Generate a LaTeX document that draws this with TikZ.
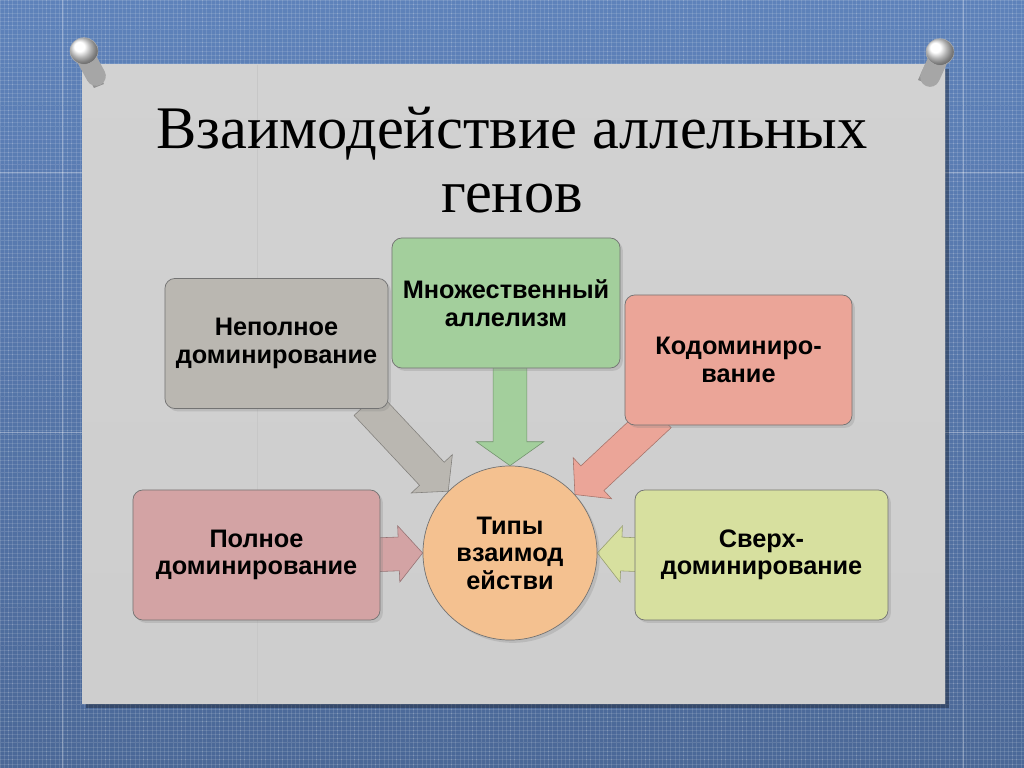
\documentclass[tikz,border=0pt]{standalone}
\usepackage{fontspec}
\setmainfont{Liberation Sans}
\newfontfamily\titlefont{Liberation Serif}
\usetikzlibrary{calc,shadows,patterns}

\definecolor{denim}{HTML}{5E82BA}
\definecolor{denimdark}{HTML}{4B6897}
\definecolor{card}{HTML}{D4D4D4}
\definecolor{greybox}{HTML}{BAB7B1}
\definecolor{greenbox}{HTML}{A3CF9C}
\definecolor{salmonbox}{HTML}{EBA598}
\definecolor{rosebox}{HTML}{D3A3A4}
\definecolor{limebox}{HTML}{D7E09F}
\definecolor{peach}{HTML}{F4C190}

\pgfdeclarelayer{back}
\pgfdeclarelayer{arrows}
\pgfsetlayers{back,arrows,main}

\newcommand{\fatarrow}[4][20pt]{%
  \coordinate (hb) at ($(#3)!17pt!(#2)$);
  \filldraw[#4, draw=#4!70!black, line width=0.4pt]
    ($(#2)!12pt!90:(#3)$) -- ($(hb)!12pt!90:(#3)$) -- ($(hb)!#1!90:(#3)$)
    -- (#3) -- ($(hb)!#1!-90:(#3)$) -- ($(hb)!12pt!-90:(#3)$)
    -- ($(#2)!12pt!-90:(#3)$) -- cycle;
}

\begin{document}
\begin{tikzpicture}[x=0.025cm, y=-0.025cm,
    box/.style={rectangle, rounded corners=7pt, draw=black!55, line width=0.5pt,
      align=center, font=\bfseries\fontsize{18}{19.5}\selectfont,
      minimum height=3.25cm, drop shadow={opacity=0.25, shadow xshift=2pt, shadow yshift=-2pt}},
    pinhead/.style={ball color=white, draw=gray!60, line width=0.3pt}]
  \useasboundingbox (0,0) rectangle (1024,768);

  \begin{pgfonlayer}{back}
    \shade[top color=denim, bottom color=denimdark] (0,0) rectangle (1024,768);
    \fill[pattern=grid, pattern color=white, opacity=0.12] (0,0) rectangle (1024,768);
    \foreach \xx in {62,963} \draw[white, opacity=0.35, line width=0.6pt] (\xx,0) -- (\xx,768);
    \foreach \yy in {172,432} \draw[white, opacity=0.35, line width=0.6pt] (0,\yy) -- (1024,\yy);
    \fill[black, opacity=0.3] (86,69) rectangle (949,708);
    \shade[top color=card!105!white, bottom color=card!97!black] (82,65) rectangle (945,703);
    \draw[black!22, line width=0.5pt] (257,65) -- (257,703);
    % pins
    \fill[black, opacity=0.3] (92,62) -- (104,84) -- (94,88) -- (82,66) -- cycle;
    \draw[gray!70, line width=14pt, line cap=round] (84,54) -- (96,76);
    \shade[pinhead] (84,51) ellipse (10pt and 9.5pt);
    \fill[black, opacity=0.3] (938,62) -- (928,84) -- (918,80) -- (928,58) -- cycle;
    \draw[gray!70, line width=14pt, line cap=round] (940,55) -- (930,77);
    \shade[pinhead] (940,52) ellipse (10pt and 9.5pt);
  \end{pgfonlayer}

  \node (title) [font=\titlefont\fontsize{43}{46}\selectfont, align=center] at (512,160)
    {Взаимодействие аллельных\\генов};

  \node (incomplete) [box, fill=greybox, minimum width=5.575cm] at (276.5,343.5)
    {Неполное\\доминирование};
  \node (multiple) [box, fill=greenbox, minimum width=5.7cm] at (506,303)
    {Множественный\\аллелизм};
  \node (codom) [box, fill=salmonbox, minimum width=5.675cm] at (738.5,360)
    {Кодоминиро-\\вание};
  \node (complete) [box, fill=rosebox, minimum width=6.175cm] at (256.5,555)
    {Полное\\доминирование};
  \node (over) [box, fill=limebox, minimum width=6.325cm] at (761.5,555)
    {Сверх-\\доминирование};
  \node (types) [circle, fill=peach, draw=black!55, line width=0.5pt, minimum size=4.35cm,
    align=center, font=\bfseries\fontsize{18}{19.5}\selectfont,
    drop shadow={opacity=0.25, shadow xshift=2pt, shadow yshift=-2pt}] at (510,553)
    {Типы\\взаимод\\ействи};

  \begin{pgfonlayer}{arrows}
    \fatarrow{$(incomplete.south east)+(-22,-5)$}{types.north west}{greybox}
    \fatarrow[24pt]{$(multiple.south)+(4,-5)$}{types.north}{greenbox}
    \fatarrow{$(codom.south west)+(35,-10)$}{types.42}{salmonbox}
    \fatarrow{$(complete.east)+(-10,0)$}{types.west}{rosebox}
    \fatarrow{$(over.west)+(10,0)$}{types.east}{limebox}
  \end{pgfonlayer}
\end{tikzpicture}
\end{document}
